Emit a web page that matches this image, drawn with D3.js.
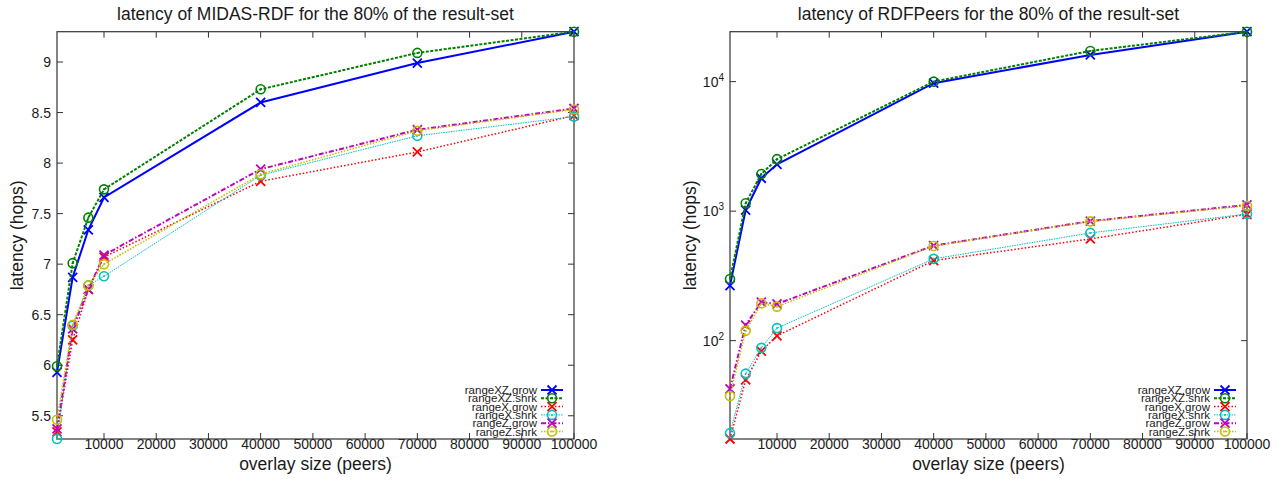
<!DOCTYPE html>
<html>
<head>
<meta charset="utf-8">
<script src="https://cdn.jsdelivr.net/npm/d3@7"></script>
<style>
    body {margin: 0; background: #fff;}
    text {font-family: "Liberation Sans", Arial, sans-serif; fill: #1a1a1a;}
</style>
</head>
<body>
<div id="chart"></div>
<script>
// overlay sizes (x) shared by both plots
const overlaySizes = [1000, 4000, 7000, 10000, 40000, 70000, 100000];
const seriesKeys = ["rangeXZ.grow", "rangeXZ.shrk", "rangeX.grow", "rangeX.shrk", "rangeZ.grow", "rangeZ.shrk"];

// MIDAS-RDF latency (hops)
const midasXZGrow = [5.93, 6.87, 7.34, 7.66, 8.60, 8.99, 9.30];
const midasXZShrk = [5.99, 7.01, 7.46, 7.74, 8.73, 9.09, 9.30];
const midasXGrow = [5.34, 6.25, 6.75, 7.07, 7.82, 8.11, 8.47];
const midasXShrk = [5.27, 6.39, 6.79, 6.88, 7.88, 8.27, 8.46];
const midasZGrow = [5.37, 6.36, 6.75, 7.09, 7.94, 8.33, 8.54];
const midasZShrk = [5.46, 6.40, 6.79, 7.00, 7.89, 8.32, 8.53];

// RDFPeers latency (hops)
const rdfXZGrow = [266, 1020, 1795, 2300, 9720, 16070, 24300];
const rdfXZShrk = [299, 1150, 1936, 2520, 10000, 17260, 24300];
const rdfXGrow = [17.4, 49.7, 83, 109, 415, 610, 945];
const rdfXShrk = [19.3, 55.6, 88, 125, 428, 679, 951];
const rdfZGrow = [42.4, 132, 198, 192, 542, 837, 1117];
const rdfZShrk = [37.4, 119, 194, 183, 538, 833, 1100];

const xTickValues = [10000, 20000, 30000, 40000, 50000, 60000, 70000, 80000, 90000, 100000];
const midasYTicks = [5.5, 6, 6.5, 7, 7.5, 8, 8.5, 9];
const rdfYTicks = [100, 1000, 10000];

const titles = ["latency of MIDAS-RDF for the 80% of the result-set",
    "latency of RDFPeers for the 80% of the result-set"];

const W = 1282, H = 479,
    plotTop = 31.7, plotBottom = 439;

// line styles in gnuplot order
const styles = [
    {color: "#0000ff", width: 2, dash: null, mark: "x"},
    {color: "#008000", width: 2, dash: "3,1.5", mark: "o"},
    {color: "#ff0000", width: 1.5, dash: "1.5,2", mark: "x"},
    {color: "#00c0c0", width: 1, dash: "1.5,1", mark: "o"},
    {color: "#c000c0", width: 2, dash: "5,2,1.5,2", mark: "x"},
    {color: "#c0c000", width: 1.5, dash: "1.5,1.5", mark: "o"}
];

const svg = d3.select("#chart").append("svg")
    .attr("width", W)
    .attr("height", H);

function drawMarker(g, kind, cx, cy, color) {
    if (kind === "x") {
        const s = 4.5;
        g.append("path")
            .attr("d", `M${cx - s},${cy - s}L${cx + s},${cy + s}M${cx - s},${cy + s}L${cx + s},${cy - s}`)
            .attr("stroke", color).attr("stroke-width", 1.8).attr("fill", "none");
    } else {
        g.append("circle").attr("cx", cx).attr("cy", cy).attr("r", 4.5)
            .attr("stroke", color).attr("stroke-width", 1.6).attr("fill", "none");
        g.append("circle").attr("cx", cx).attr("cy", cy).attr("r", 1)
            .attr("fill", color);
    }
}

function show(panel) {
    const series = panel.series;
    const all = series.flat();

    const x = d3.scaleLinear()
        .domain(d3.extent(overlaySizes))
        .range([panel.left, panel.right]);

    const y = (panel.log ? d3.scaleLog() : d3.scaleLinear())
        .domain(d3.extent(all))
        .range([plotBottom, plotTop]);

    const g = svg.append("g");

    // ticks, inward, mirrored
    const tk = 6;
    xTickValues.forEach(v => {
        const px = x(v);
        g.append("line").attr("x1", px).attr("x2", px).attr("y1", plotBottom).attr("y2", plotBottom - tk)
            .attr("stroke", "#333");
        g.append("line").attr("x1", px).attr("x2", px).attr("y1", plotTop).attr("y2", plotTop + tk)
            .attr("stroke", "#333");
        g.append("text").attr("x", px).attr("y", plotBottom + 10)
            .attr("text-anchor", "middle").style("font-size", "14px").text(v);
    });

    panel.yTicks.forEach(v => {
        const py = y(v);
        g.append("line").attr("x1", panel.left).attr("x2", panel.left + tk).attr("y1", py).attr("y2", py)
            .attr("stroke", "#333");
        g.append("line").attr("x1", panel.right).attr("x2", panel.right - tk).attr("y1", py).attr("y2", py)
            .attr("stroke", "#333");
        const t = g.append("text").attr("x", panel.left - 6).attr("y", py + 5)
            .attr("text-anchor", "end").style("font-size", "14px");
        if (panel.log) {
            t.append("tspan").text("10");
            t.append("tspan").attr("dy", -6).style("font-size", "10px").text(Math.round(Math.log10(v)));
        } else {
            t.text(v);
        }
    });

    // border
    g.append("rect")
        .attr("x", panel.left).attr("y", plotTop)
        .attr("width", panel.right - panel.left).attr("height", plotBottom - plotTop)
        .attr("fill", "none").attr("stroke", "#333").attr("stroke-width", 1.2);

    // lines
    const line = d3.line()
        .x((d, i) => x(overlaySizes[i]))
        .y(d => y(d));

    series.forEach((vals, k) => {
        const st = styles[k];
        g.append("path")
            .datum(vals)
            .attr("d", line)
            .attr("fill", "none")
            .attr("stroke", st.color)
            .attr("stroke-width", st.width)
            .attr("stroke-dasharray", st.dash);
        vals.forEach((v, i) => drawMarker(g, st.mark, x(overlaySizes[i]), y(v), st.color));
    });

    // legend
    const lx = panel.right - 37, rowY = plotBottom - 49, rowH = 8.3;
    seriesKeys.forEach((key, k) => {
        const st = styles[k];
        const ry = rowY + k * rowH;
        g.append("text").attr("x", lx).attr("y", ry + 4)
            .attr("text-anchor", "end").style("font-size", "11.5px").text(key);
        g.append("line").attr("x1", lx + 4).attr("x2", lx + 26).attr("y1", ry).attr("y2", ry)
            .attr("stroke", st.color).attr("stroke-width", st.width)
            .attr("stroke-dasharray", st.dash);
        drawMarker(g, st.mark, lx + 15, ry, st.color);
    });

    // titles and axis labels
    const cx = (panel.left + panel.right) / 2;
    g.append("text").attr("x", cx).attr("y", 20)
        .attr("text-anchor", "middle").style("font-size", "17.5px").text(panel.title);
    g.append("text").attr("x", cx).attr("y", 470)
        .attr("text-anchor", "middle").style("font-size", "17.5px").text("overlay size (peers)");
    g.append("text")
        .attr("transform", `translate(${panel.left - 34},${(plotTop + plotBottom) / 2}) rotate(-90)`)
        .attr("text-anchor", "middle").style("font-size", "17.5px").text("latency (hops)");
}

show({
    left: 57, right: 574, log: false, title: titles[0], yTicks: midasYTicks,
    series: [midasXZGrow, midasXZShrk, midasXGrow, midasXShrk, midasZGrow, midasZShrk]
});
show({
    left: 730, right: 1247, log: true, title: titles[1], yTicks: rdfYTicks,
    series: [rdfXZGrow, rdfXZShrk, rdfXGrow, rdfXShrk, rdfZGrow, rdfZShrk]
});
</script>
</body>
</html>
